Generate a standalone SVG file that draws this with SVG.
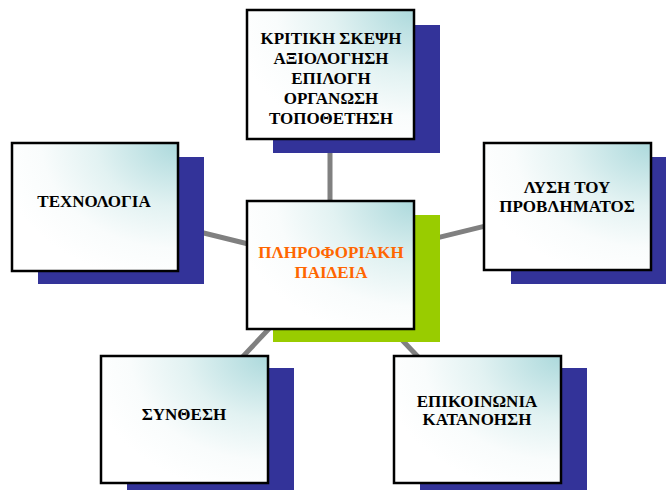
<svg xmlns="http://www.w3.org/2000/svg" width="666" height="490" viewBox="0 0 666 490">
<style>
.shadow{fill:#333399}
.green{fill:#99cc00}
.box{fill:url(#g);stroke:#000;stroke-width:2.5}
.t{font-family:"Liberation Serif","Times New Roman",serif;font-weight:bold;font-size:17px;text-anchor:middle;fill:#000}
.o{fill:#ff6600}
.c{stroke:#808080;stroke-width:5;fill:none}
</style>
<defs>
<radialGradient id="g" cx="1" cy="0" r="1.1" fx="1" fy="0">
<stop offset="0" stop-color="#acd9dc"/>
<stop offset="0.45" stop-color="#e2f2f2"/>
<stop offset="0.75" stop-color="#f9fcfc"/>
<stop offset="1" stop-color="#ffffff"/>
</radialGradient>
</defs>
<rect width="666" height="490" fill="#fff"/>
<g id="connectors">
<line class="c" x1="330" y1="264" x2="330" y2="74"/>
<line class="c" x1="330" y1="264" x2="94" y2="206"/>
<line class="c" x1="330" y1="264" x2="567" y2="206"/>
<line class="c" x1="330" y1="264" x2="184" y2="419"/>
<line class="c" x1="330" y1="264" x2="477" y2="419"/>
</g>
<g id="top">
<rect class="shadow" x="273" y="25" width="167" height="128"/>
<rect class="box" x="247" y="10" width="167" height="129"/>
<text class="t" x="331" y="44">ΚΡΙΤΙΚΗ ΣΚΕΨΗ</text>
<text class="t" x="331" y="64">ΑΞΙΟΛΟΓΗΣΗ</text>
<text class="t" x="331" y="84">ΕΠΙΛΟΓΗ</text>
<text class="t" x="331" y="104">ΟΡΓΑΝΩΣΗ</text>
<text class="t" x="331" y="124">ΤΟΠΟΘΕΤΗΣΗ</text>
</g>
<g id="left">
<rect class="shadow" x="38" y="157" width="166" height="127"/>
<rect class="box" x="12" y="143" width="166" height="128"/>
<text class="t" x="94" y="207">ΤΕΧΝΟΛΟΓΙΑ</text>
</g>
<g id="right">
<rect class="shadow" x="511" y="157" width="167" height="127"/>
<rect class="box" x="484" y="143" width="167" height="127"/>
<text class="t" x="567" y="193">ΛΥΣΗ ΤΟΥ</text>
<text class="t" x="567" y="212">ΠΡΟΒΛΗΜΑΤΟΣ</text>
</g>
<g id="center">
<rect class="green" x="273" y="215" width="167" height="127"/>
<rect class="box" x="247" y="201" width="167" height="128"/>
<text class="t o" x="331" y="258">ΠΛΗΡΟΦΟΡΙΑΚΗ</text>
<text class="t o" x="331" y="278">ΠΑΙΔΕΙΑ</text>
</g>
<g id="bottomleft">
<rect class="shadow" x="127" y="368" width="167" height="128"/>
<rect class="box" x="101" y="356" width="167" height="127"/>
<text class="t" x="184" y="420">ΣΥΝΘΕΣΗ</text>
</g>
<g id="bottomright">
<rect class="shadow" x="420" y="368" width="167" height="128"/>
<rect class="box" x="394" y="356" width="167" height="127"/>
<text class="t" x="477" y="407">ΕΠΙΚΟΙΝΩΝΙΑ</text>
<text class="t" x="477" y="425">ΚΑΤΑΝΟΗΣΗ</text>
</g>
</svg>
